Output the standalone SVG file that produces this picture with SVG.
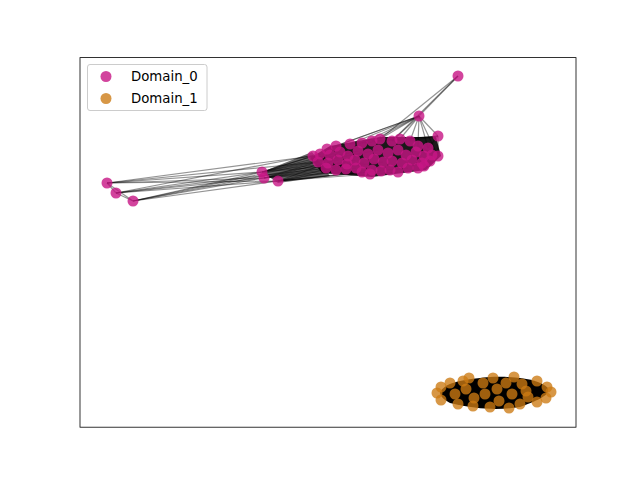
<svg xmlns="http://www.w3.org/2000/svg" width="640" height="480" viewBox="0 0 640 480">
<style>
.e{stroke:#000;stroke-opacity:0.42;stroke-width:1.2;fill:none}
.d0{fill:#c71585;fill-opacity:0.8}
.d1{fill:#cc7a12;fill-opacity:0.78}
.lt{font-family:"DejaVu Sans",sans-serif;font-size:13.3px;fill:#000}
</style>
<rect width="640" height="480" fill="#fff"/>
<g id="connectors">
<path d="M310,158 L330,146 L380,137 L436,137 L441,156 L426,170 L372,177 L322,173 Z" fill="#000" fill-opacity="0.9"/>
<path d="M262,172 L312,152 L330,176 L278,183 Z" fill="#000" fill-opacity="0.6"/>
<path d="M440,392 C445,384 455,380 490,377 C520,376 540,380 548,388 C549,394 545,398 520,407 C500,410 480,410 450,403 C444,400 440,396 440,392 Z" fill="#000"/>
<g class="e">
<line x1="262" y1="172" x2="313" y2="156"/><line x1="262" y1="172" x2="320" y2="154"/><line x1="262" y1="172" x2="340" y2="152"/><line x1="262" y1="172" x2="358" y2="151"/><line x1="262" y1="172" x2="378" y2="150"/><line x1="262" y1="172" x2="330" y2="163"/><line x1="262" y1="172" x2="364" y2="163"/>
<line x1="264" y1="178" x2="318" y2="162"/><line x1="264" y1="178" x2="338" y2="160"/><line x1="264" y1="178" x2="355" y2="160"/><line x1="264" y1="178" x2="383" y2="162"/><line x1="264" y1="178" x2="326" y2="168"/><line x1="264" y1="178" x2="346" y2="169"/><line x1="264" y1="178" x2="372" y2="170"/>
<line x1="278" y1="181" x2="336" y2="170"/><line x1="278" y1="181" x2="356" y2="168"/><line x1="278" y1="181" x2="381" y2="171"/><line x1="278" y1="181" x2="398" y2="172"/><line x1="278" y1="181" x2="328" y2="163"/><line x1="278" y1="181" x2="347" y2="164"/><line x1="278" y1="181" x2="362" y2="172"/><line x1="278" y1="181" x2="408" y2="168"/>
<line x1="107" y1="183" x2="262" y2="172"/><line x1="107" y1="183" x2="264" y2="178"/><line x1="107" y1="183" x2="278" y2="181"/><line x1="107" y1="183" x2="313" y2="156"/><line x1="107" y1="183" x2="318" y2="162"/><line x1="107" y1="183" x2="116" y2="193"/>
<line x1="116" y1="193" x2="262" y2="172"/><line x1="116" y1="193" x2="264" y2="178"/><line x1="116" y1="193" x2="278" y2="181"/><line x1="116" y1="193" x2="320" y2="154"/><line x1="116" y1="193" x2="326" y2="168"/><line x1="116" y1="193" x2="133" y2="201"/>
<line x1="133" y1="201" x2="262" y2="172"/><line x1="133" y1="201" x2="264" y2="178"/><line x1="133" y1="201" x2="278" y2="181"/><line x1="133" y1="201" x2="318" y2="162"/><line x1="133" y1="201" x2="330" y2="163"/><line x1="133" y1="201" x2="107" y2="183"/>
<line x1="458" y1="76" x2="419" y2="116"/><line x1="458" y1="76" x2="380" y2="139"/><line x1="458" y1="76" x2="392" y2="141"/>
<line x1="419" y1="116" x2="438" y2="136"/><line x1="419" y1="116" x2="336" y2="146"/><line x1="419" y1="116" x2="350" y2="144"/><line x1="419" y1="116" x2="362" y2="143"/><line x1="419" y1="116" x2="372" y2="141"/><line x1="419" y1="116" x2="380" y2="139"/><line x1="419" y1="116" x2="392" y2="141"/><line x1="419" y1="116" x2="400" y2="139"/><line x1="419" y1="116" x2="410" y2="141"/><line x1="419" y1="116" x2="418" y2="146"/><line x1="419" y1="116" x2="428" y2="148"/><line x1="419" y1="116" x2="438" y2="156"/><line x1="419" y1="116" x2="327" y2="149"/>
<line x1="438" y1="136" x2="350" y2="144"/><line x1="438" y1="136" x2="372" y2="141"/><line x1="438" y1="136" x2="392" y2="141"/><line x1="438" y1="136" x2="410" y2="141"/><line x1="438" y1="136" x2="438" y2="156"/><line x1="438" y1="136" x2="428" y2="148"/>
<line x1="438" y1="156" x2="424" y2="166"/><line x1="438" y1="156" x2="418" y2="146"/>
</g>
</g>
<g id="domain0">
<circle class="d0" cx="458" cy="76" r="5.5"/><circle class="d0" cx="419" cy="116" r="5.5"/><circle class="d0" cx="438" cy="136" r="5.5"/><circle class="d0" cx="438" cy="156" r="5.5"/>
<circle class="d0" cx="262" cy="172" r="5.5"/><circle class="d0" cx="264" cy="178" r="5.5"/><circle class="d0" cx="278" cy="181" r="5.5"/>
<circle class="d0" cx="107" cy="183" r="5.5"/><circle class="d0" cx="116" cy="193" r="5.5"/><circle class="d0" cx="133" cy="201" r="5.5"/>
<circle class="d0" cx="327" cy="149" r="5.5"/><circle class="d0" cx="336" cy="146" r="5.5"/><circle class="d0" cx="350" cy="144" r="5.5"/><circle class="d0" cx="362" cy="143" r="5.5"/><circle class="d0" cx="372" cy="141" r="5.5"/><circle class="d0" cx="380" cy="139" r="5.5"/><circle class="d0" cx="392" cy="141" r="5.5"/><circle class="d0" cx="400" cy="139" r="5.5"/><circle class="d0" cx="410" cy="141" r="5.5"/><circle class="d0" cx="418" cy="146" r="5.5"/><circle class="d0" cx="428" cy="148" r="5.5"/>
<circle class="d0" cx="313" cy="156" r="5.5"/><circle class="d0" cx="320" cy="154" r="5.5"/><circle class="d0" cx="330" cy="155" r="5.5"/><circle class="d0" cx="340" cy="152" r="5.5"/><circle class="d0" cx="348" cy="156" r="5.5"/><circle class="d0" cx="358" cy="151" r="5.5"/><circle class="d0" cx="368" cy="154" r="5.5"/><circle class="d0" cx="378" cy="150" r="5.5"/><circle class="d0" cx="388" cy="153" r="5.5"/><circle class="d0" cx="398" cy="150" r="5.5"/><circle class="d0" cx="406" cy="155" r="5.5"/><circle class="d0" cx="416" cy="152" r="5.5"/><circle class="d0" cx="424" cy="156" r="5.5"/><circle class="d0" cx="432" cy="155" r="5.5"/>
<circle class="d0" cx="318" cy="162" r="5.5"/><circle class="d0" cx="328" cy="163" r="5.5"/><circle class="d0" cx="338" cy="160" r="5.5"/><circle class="d0" cx="347" cy="164" r="5.5"/><circle class="d0" cx="355" cy="160" r="5.5"/><circle class="d0" cx="364" cy="163" r="5.5"/><circle class="d0" cx="374" cy="159" r="5.5"/><circle class="d0" cx="383" cy="162" r="5.5"/><circle class="d0" cx="392" cy="161" r="5.5"/><circle class="d0" cx="402" cy="163" r="5.5"/><circle class="d0" cx="412" cy="160" r="5.5"/><circle class="d0" cx="422" cy="163" r="5.5"/><circle class="d0" cx="430" cy="161" r="5.5"/>
<circle class="d0" cx="326" cy="168" r="5.5"/><circle class="d0" cx="336" cy="170" r="5.5"/><circle class="d0" cx="346" cy="169" r="5.5"/><circle class="d0" cx="356" cy="168" r="5.5"/><circle class="d0" cx="362" cy="172" r="5.5"/><circle class="d0" cx="372" cy="170" r="5.5"/><circle class="d0" cx="381" cy="171" r="5.5"/><circle class="d0" cx="390" cy="170" r="5.5"/><circle class="d0" cx="398" cy="172" r="5.5"/><circle class="d0" cx="408" cy="168" r="5.5"/><circle class="d0" cx="418" cy="168" r="5.5"/><circle class="d0" cx="424" cy="166" r="5.5"/><circle class="d0" cx="370" cy="174" r="5.5"/>
</g>
<g id="domain1">
<circle class="d1" cx="441" cy="387" r="5.5"/><circle class="d1" cx="437" cy="393" r="5.5"/><circle class="d1" cx="441" cy="400" r="5.5"/><circle class="d1" cx="450" cy="383" r="5.5"/><circle class="d1" cx="455" cy="394" r="5.5"/><circle class="d1" cx="458" cy="404" r="5.5"/><circle class="d1" cx="463" cy="381" r="5.5"/><circle class="d1" cx="469" cy="378" r="5.5"/><circle class="d1" cx="466" cy="389" r="5.5"/><circle class="d1" cx="474" cy="398" r="5.5"/><circle class="d1" cx="473" cy="406" r="5.5"/><circle class="d1" cx="483" cy="383" r="5.5"/><circle class="d1" cx="485" cy="394" r="5.5"/><circle class="d1" cx="490" cy="407" r="5.5"/><circle class="d1" cx="493" cy="378" r="5.5"/><circle class="d1" cx="497" cy="389" r="5.5"/><circle class="d1" cx="499" cy="401" r="5.5"/><circle class="d1" cx="506" cy="383" r="5.5"/><circle class="d1" cx="509" cy="408" r="5.5"/><circle class="d1" cx="514" cy="377" r="5.5"/><circle class="d1" cx="512" cy="394" r="5.5"/><circle class="d1" cx="520" cy="404" r="5.5"/><circle class="d1" cx="522" cy="384" r="5.5"/><circle class="d1" cx="526" cy="391" r="5.5"/><circle class="d1" cx="528" cy="397" r="5.5"/><circle class="d1" cx="537" cy="381" r="5.5"/><circle class="d1" cx="537" cy="402" r="5.5"/><circle class="d1" cx="547" cy="387" r="5.5"/><circle class="d1" cx="551" cy="392" r="5.5"/><circle class="d1" cx="546" cy="398" r="5.5"/>
</g>
<rect x="80" y="57.6" width="496" height="369.6" fill="none" stroke="#000" stroke-width="0.8"/>
<g id="legend">
<rect x="87.5" y="64.5" width="119.5" height="46" rx="2.5" fill="#fff" fill-opacity="0.8" stroke="#ccc" stroke-width="1"/>
<circle class="d0" cx="106" cy="76.5" r="5.5"/>
<circle class="d1" cx="106" cy="98.5" r="5.5"/>
<text class="lt" x="131" y="81">Domain_0</text>
<text class="lt" x="131" y="103">Domain_1</text>
</g>
</svg>
